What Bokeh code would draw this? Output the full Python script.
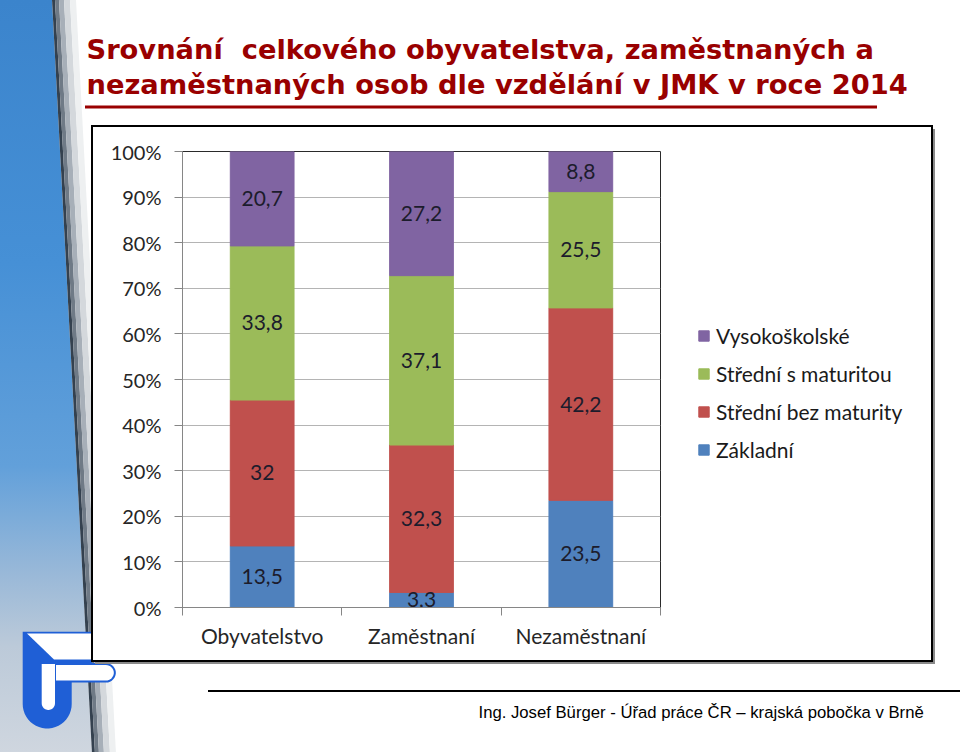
import base64
import numpy as np
from bokeh.plotting import figure
from bokeh.models import (ColumnDataSource, Legend, LegendItem, Title, FixedTicker,
                          CustomJSTickFormatter, Range1d, PrintfTickFormatter)
from bokeh.core.properties import value
from bokeh.embed import file_html
from bokeh.resources import INLINE

# ---------------- data ----------------
categories = ["Obyvatelstvo", "Zaměstnaní", "Nezaměstnaní"]
series_names = ["Základní", "Střední bez maturity", "Střední s maturitou", "Vysokoškolské"]
zakladni = [13.5, 3.3, 23.5]
stredni_bez_maturity = [32.0, 32.3, 42.2]
stredni_s_maturitou = [33.8, 37.1, 25.5]
vysokoskolske = [20.7, 27.2, 8.8]
series_colors = ["#4F81BD", "#C0504D", "#9BBB59", "#8064A2"]
y_tick_values = [0, 10, 20, 30, 40, 50, 60, 70, 80, 90, 100]
title_line1 = "Srovnání\u00a0 celkového obyvatelstva, zaměstnaných a"
title_line2 = "nezaměstnaných osob dle vzdělání v JMK v roce 2014"
footer_text = "Ing. Josef Bürger - Úřad práce ČR – krajská pobočka v Brně"

# ---------------- layout constants (canvas px) ----------------
W, H = 960, 752
FL, FR, FT, FB = 182, 660, 151, 607   # plot frame edges on the canvas
FONT = "Lato"
FS = "21px"

series_values = [zakladni, stredni_bez_maturity, stredni_s_maturitou, vysokoskolske]
totals = np.sum(np.array(series_values), axis=0)
keys = ["s0", "s1", "s2", "s3"]
xpos = [i + 0.5 for i in range(len(categories))]
data = {"x": xpos}
for k, vals in zip(keys, series_values):
    data[k] = list(np.array(vals) / totals * 100.0)
src = ColumnDataSource(data)


def fmt(v):
    s = f"{v:.1f}".rstrip("0").rstrip(".")
    return s.replace(".", ",")


lx, ly, lt = [], [], []
bottoms = np.zeros(len(categories))
for k, vals in zip(keys, series_values):
    pct = np.array(data[k])
    for i in range(len(categories)):
        lx.append(xpos[i])
        ly.append(bottoms[i] + pct[i] / 2.0)
        lt.append(fmt(vals[i]))
    bottoms = bottoms + pct
label_src = ColumnDataSource(dict(x=lx, y=ly, text=lt))

# ---------------- slide background (graphics only, no text) ----------------
def ex(py):          # stripe edge
    return 52 + 0.053 * py


def pts(lst):
    return " ".join(f"{x:.1f},{y:.1f}" for x, y in lst)


svg = [f'<svg xmlns="http://www.w3.org/2000/svg" width="{W}" height="{H}" viewBox="0 0 {W} {H}">',
       '<defs><linearGradient id="bl" gradientUnits="userSpaceOnUse" x1="0" y1="0" x2="0" y2="752">'
       '<stop offset="0" stop-color="#3b84cc"/><stop offset="0.35" stop-color="#4690d6"/>'
       '<stop offset="0.62" stop-color="#62a0da"/><stop offset="0.76" stop-color="#98b8d8"/>'
       '<stop offset="0.86" stop-color="#bccad9"/><stop offset="1" stop-color="#cfd6df"/>'
       '</linearGradient></defs>']
svg.append(f'<polygon points="{pts([(0, 0), (ex(0), 0), (ex(752), 752), (0, 752)])}" fill="url(#bl)"/>')
for a, b, col in [(0, 3, "#34414f"), (3, 7, "#6f7a86"), (7, 12, "#a7afb8"), (12, 18, "#d4d8dc"), (18, 24, "#eef0f1")]:
    svg.append(f'<polygon points="{pts([(ex(0) + a, 0), (ex(0) + b, 0), (ex(752) + b, 752), (ex(752) + a, 752)])}" fill="{col}"/>')
# logo
LOGO = "#1f5fd6"
arc = np.linspace(0, np.pi, 24)
stem = [(22.7, 631.7), (92.0, 631.7), (92.0, 663.3), (71.7, 663.3)] + \
       [(47.2 + 24.5 * np.cos(t), 704 + 24.5 * np.sin(t)) for t in arc] + [(22.7, 631.7)]
svg.append(f'<polygon points="{pts(stem)}" fill="{LOGO}"/>')
svg.append(f'<polygon points="{pts([(27, 633.5), (92, 633.5), (92, 659.5), (54, 659.5)])}" fill="white"/>')
lobe_t = np.linspace(-np.pi / 2, np.pi / 2, 16)
lobe = [(55, 664), (106, 664)] + [(106 + 8.8 * np.cos(t), 672.8 + 8.8 * np.sin(t)) for t in lobe_t] + [(106, 681.6), (55, 681.6)]
svg.append(f'<polygon points="{pts(lobe)}" fill="white" stroke="{LOGO}" stroke-width="2"/>')
slot = [(41.7, 664), (55, 664)] + [(48.35 + 6.65 * np.cos(t), 703.3 + 6.65 * np.sin(t)) for t in arc] + [(41.7, 664)]
svg.append(f'<polygon points="{pts(slot)}" fill="white"/>')
# chart box + shadow
svg.append('<rect x="95" y="129" width="840" height="535" fill="#8a8a8a"/>')
svg.append('<rect x="92" y="126" width="840" height="535" fill="white" stroke="black" stroke-width="2"/>')
# title underline, footer rule
svg.append('<rect x="85" y="105.5" width="792" height="3" fill="#990000"/>')
svg.append('<rect x="208" y="690" width="760" height="2" fill="black"/>')
svg.append('</svg>')
bg = base64.b64encode("".join(svg).encode("utf-8")).decode("ascii")

# ---------------- figure ----------------
p = figure(width=W, height=H, frame_width=FR - FL, frame_height=FB - FT,
           x_range=Range1d(0, 3), y_range=Range1d(0, 100),
           output_backend="svg", toolbar_location=None, title=None,
           min_border_left=FL, min_border_right=W - FR,
           min_border_top=FT, min_border_bottom=H - FB)
p.background_fill_color = "white"
p.border_fill_alpha = 0.0
p.outline_line_color = "#2a2a2a"
p.outline_line_width = 1
p.styles = {"background-image": f"url('data:image/svg+xml;base64,{bg}')",
            "background-repeat": "no-repeat", "background-size": f"{W}px {H}px",
            "background-color": "white"}

renderers = p.vbar_stack(keys, x="x", width=0.4, color=series_colors, source=src)
p.text(x="x", y="y", text="text", source=label_src, text_align="center", text_baseline="middle",
       text_font=value(FONT), text_font_size=FS, text_color="#1c1c2c")

p.ygrid.grid_line_color = "#b4b4b4"
p.ygrid.ticker = FixedTicker(ticks=y_tick_values)
p.xgrid.visible = False

yax = p.yaxis[0]
yax.ticker = FixedTicker(ticks=y_tick_values)
yax.formatter = PrintfTickFormatter(format="%d%%")
yax.axis_line_color = "#868686"
yax.major_tick_line_color = "#868686"
yax.major_tick_out = 8
yax.major_tick_in = 0
yax.minor_tick_line_color = None
yax.major_label_standoff = 13
yax.major_label_text_font = FONT
yax.major_label_text_font_size = "20px"
yax.major_label_text_color = "#262626"

xax = p.xaxis[0]
xax.ticker = FixedTicker(ticks=xpos, minor_ticks=[0, 1, 2, 3])
xax.formatter = CustomJSTickFormatter(args=dict(cats=categories),
                                      code="return cats[Math.floor(tick)] || '';")
xax.axis_line_color = "#868686"
xax.major_tick_out = 0
xax.major_tick_in = 0
xax.minor_tick_out = 8
xax.minor_tick_in = 0
xax.minor_tick_line_color = "#868686"
xax.major_label_standoff = 7
xax.major_label_text_font = FONT
xax.major_label_text_font_size = FS
xax.major_label_text_color = "#262626"

legend = Legend(items=[LegendItem(label=series_names[j], renderers=[renderers[j]])
                       for j in reversed(range(len(series_names)))],
                location=(697 - FR, 145), orientation="vertical",
                glyph_width=13, glyph_height=13, label_standoff=6, spacing=13,
                padding=0, margin=0, border_line_alpha=0, background_fill_alpha=0,
                label_text_font=FONT, label_text_font_size=FS, label_text_color="#1a1a1a")
p.add_layout(legend, "right")


def spacer(standoff):
    # blank title used only to reserve vertical room in a side panel
    return Title(text=" ", standoff=standoff, text_font="Liberation Sans", text_font_size="10px")


# above: spacer nearest the frame, then title line 2, then line 1
p.add_layout(spacer(38), "above")
title_kw = dict(align="left", offset=86 - FL, text_font="DejaVu Sans", text_font_style="bold",
                text_font_size="27.3px", text_color="#990000")
p.add_layout(Title(text=title_line2, standoff=2, **title_kw), "above")
p.add_layout(Title(text=title_line1, standoff=2, **title_kw), "above")

# below: x axis, spacer, footer
p.add_layout(spacer(37), "below")
p.add_layout(Title(text=footer_text, align="left", offset=478 - FL, standoff=0,
                   text_font="Liberation Sans", text_font_style="normal", text_font_size="16.7px",
                   text_color="black"), "below")

open("out.html", "w").write(file_html(p, INLINE))
